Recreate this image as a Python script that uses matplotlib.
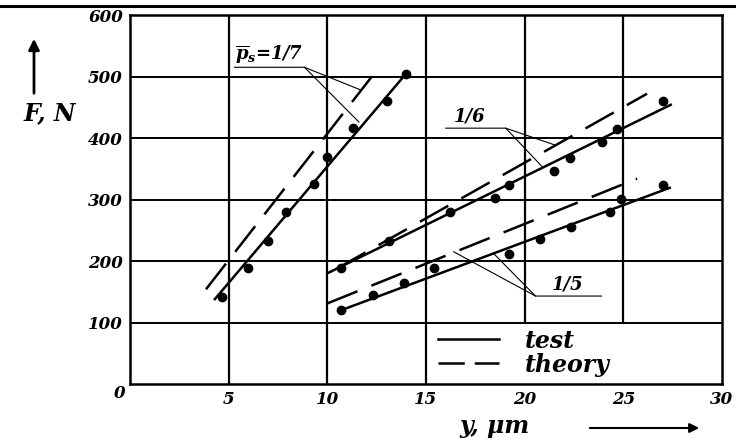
import matplotlib.pyplot as plt
from matplotlib.lines import Line2D

plt.rcParams['mathtext.fontset'] = 'custom'
plt.rcParams['mathtext.it'] = 'DejaVu Serif:bold:italic'
plt.rcParams['mathtext.rm'] = 'DejaVu Serif:bold:italic'

# measured points (y in um, F in N)
y17 = [4.65, 6.0, 7.0, 7.9, 9.3, 10.0, 11.3, 13.0, 14.0]
F17 = [142, 188, 233, 279, 325, 369, 416, 460, 504]
y16 = [10.7, 13.1, 16.2, 18.5, 19.2, 21.5, 22.3, 23.9, 24.7, 27.0]
F16 = [188, 233, 279, 303, 323, 347, 368, 393, 415, 460]
y15 = [10.7, 12.3, 13.9, 15.4, 19.2, 20.8, 22.35, 24.3, 24.9, 27.0]
F15 = [120, 145, 165, 189, 212, 235, 255, 279, 301, 324]

# fitted (test) and theoretical lines, end points
test17_y, test17_F = [4.3, 14.0], [138, 505]
theory17_y, theory17_F = [3.85, 12.5], [154, 510]
test16_y, test16_F = [10.0, 27.4], [180, 454]
theory16_y, theory16_F = [10.5, 26.2], [188, 472]
test15_y, test15_F = [10.7, 27.35], [120, 319]
theory15_y, theory15_F = [10.0, 25.7], [131, 334]

# leader lines for the labels: (x list, F list)
leaders = [
    ([5.3, 8.84, 11.7], [515, 515, 478]),
    ([8.84, 11.6], [515, 426]),
    ([16.0, 19.04, 21.5], [416, 416, 389]),
    ([19.04, 20.9], [416, 353]),
    ([23.9, 20.55, 16.4], [143, 143, 215]),
    ([20.55, 18.4], [143, 213]),
]

xticks = [5, 10, 15, 20, 25, 30]
yticks = [100, 200, 300, 400, 500, 600]

tick_font = dict(family='DejaVu Serif', style='italic', weight='bold', size=12)
lab_font = dict(family='DejaVu Serif', style='italic', weight='bold', size=17)

fig = plt.figure(figsize=(7.36, 4.4), dpi=100)
ax = fig.add_axes([130 / 736, 1 - 384 / 440, 592 / 736, 369 / 440])
ax.set_xlim(0, 30)
ax.set_ylim(0, 600)

# grid: the legend box hides the 20 and 25 lines below F=100
ax.vlines([5, 10, 15], 0, 600, color='black', lw=1.6)
ax.vlines([20, 25], 100, 600, color='black', lw=1.6)
ax.hlines([100, 200, 300, 400, 500], 0, 30, color='black', lw=1.4)
for s in ax.spines.values():
    s.set_linewidth(1.8)

dash = (0, (13, 6))
kw_test = dict(color='black', lw=1.8)
kw_theo = dict(color='black', lw=1.8, linestyle=dash)
ax.plot(test17_y, test17_F, **kw_test, label='test')
ax.plot(theory17_y, theory17_F, **kw_theo, label='theory')
ax.plot(test16_y, test16_F, **kw_test)
ax.plot(theory16_y, theory16_F, **kw_theo)
ax.plot(test15_y, test15_F, **kw_test)
ax.plot(theory15_y, theory15_F, **kw_theo)

for xs, fs in [(y17, F17), (y16, F16), (y15, F15)]:
    ax.plot(xs, fs, 'o', color='black', markersize=6, linestyle='None')

for xs, fs in leaders:
    ax.plot(xs, fs, color='black', lw=0.8)

lbl_font = dict(tick_font, size=13)
ax.text(5.3, 519, r'$\overline{p}_s$=1/7', ha='left', va='bottom', **lbl_font)
ax.text(16.4, 420, '1/6', ha='left', va='bottom', **lbl_font)
ax.text(21.4, 147, '1/5', ha='left', va='bottom', **lbl_font)

ax.set_xticks(xticks)
ax.set_xticklabels([str(v) for v in xticks], fontdict=tick_font)
ax.set_yticks(yticks)
ax.set_yticklabels([str(v) for v in yticks], fontdict=tick_font)
ax.tick_params(length=0, pad=5)
ax.text(-0.55, -15, '0', ha='center', va='center', clip_on=False, **tick_font)

leg = ax.legend(loc='upper left', bbox_to_anchor=(0.52, 0.15), frameon=False,
                borderpad=0, borderaxespad=0,
                handlelength=2.6, handletextpad=1.1, labelspacing=0.0,
                prop=dict(family='DejaVu Serif', style='italic', weight='bold', size=17))
leg.legend_handles[1].set_linestyle((0, (10.5, 4)))

fig.text(50 / 736, 1 - 113 / 440, 'F, N', ha='center', va='center', **lab_font)
fig.text(495 / 736, 1 - 426 / 440, 'y, \u03bcm', ha='center', va='center', **lab_font)

fig.add_artist(Line2D([0, 1], [1 - 6 / 440] * 2, color='black', lw=2.2))
ax.annotate('', xy=(34 / 736, 1 - 36 / 440), xytext=(34 / 736, 1 - 96 / 440),
            xycoords='figure fraction', textcoords='figure fraction',
            arrowprops=dict(arrowstyle='-|>', color='black', lw=2, mutation_scale=16))
ax.annotate('', xy=(702 / 736, 1 - 428 / 440), xytext=(587 / 736, 1 - 428 / 440),
            xycoords='figure fraction', textcoords='figure fraction',
            arrowprops=dict(arrowstyle='-|>', color='black', lw=1.5, mutation_scale=14))

fig.savefig('out.png', dpi=100)
